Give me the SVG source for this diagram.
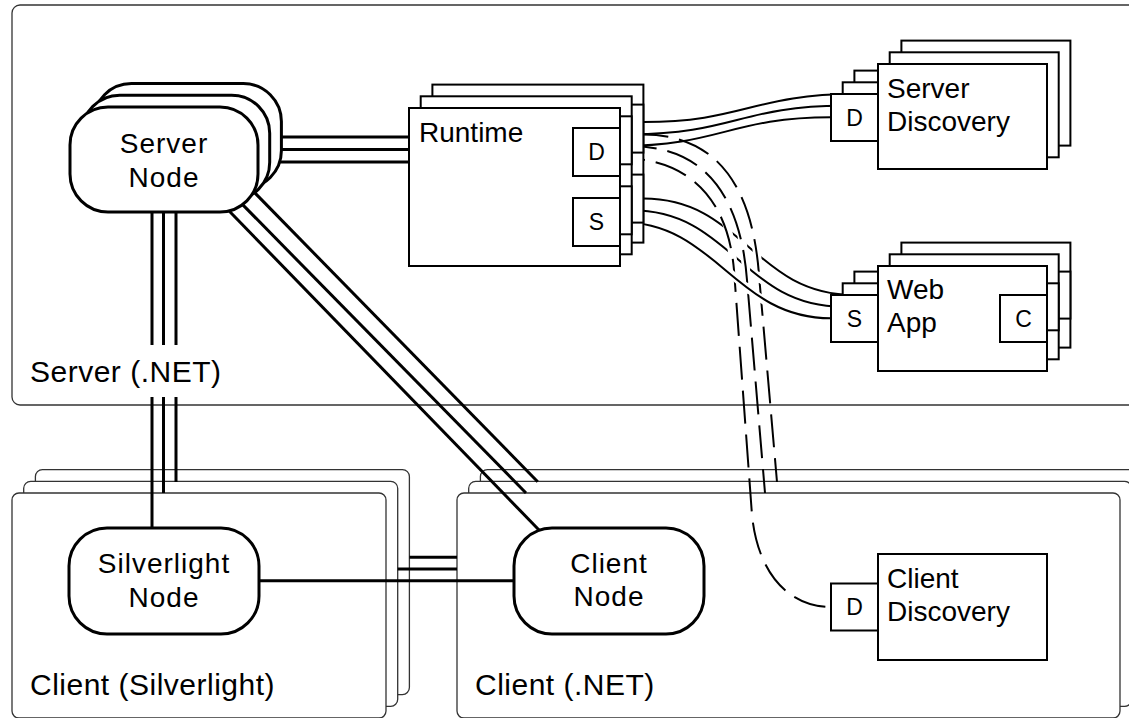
<svg xmlns="http://www.w3.org/2000/svg" xmlns:xlink="http://www.w3.org/1999/xlink" width="1129" height="718" viewBox="0 0 1129 718">
<style>
.ct{fill:#fff;stroke:#333;stroke-width:1.3}
.node{fill:#fff;stroke:#000;stroke-width:3}
.box{fill:#fff;stroke:#000;stroke-width:2}
.thick{stroke:#000;stroke-width:3;fill:none}
.thin{stroke:#000;stroke-width:2;fill:none}
.halo{stroke:#fff;stroke-width:8;fill:none}
.dash{stroke:#000;stroke-width:2;fill:none;stroke-dasharray:33 11}
text{font-family:"Liberation Sans",Arial,Helvetica,sans-serif;fill:#000}
.lbl{font-size:28px}
.nl{font-size:28px;letter-spacing:1px;text-anchor:middle}
.cl{font-size:30px;letter-spacing:0.5px}
.pt{font-size:23px;text-anchor:middle}
</style>
<defs>
<rect id="slLayer" class="ct" x="12" y="493" width="374" height="225" rx="7"/>
<rect id="cnLayer" class="ct" x="457" y="493" width="663" height="225" rx="7"/>
<rect id="snLayer" class="node" x="70" y="107" width="188" height="105" rx="38"/>
<g id="rtLayer"><rect class="box" x="409" y="108" width="211" height="158"/><rect class="box" x="573" y="128" width="47" height="48"/><rect class="box" x="573" y="198" width="47" height="48"/></g>
<g id="sdLayer"><rect class="box" x="878" y="64" width="169" height="105"/><rect class="box" x="831" y="94" width="47" height="47"/></g>
<g id="waLayer"><rect class="box" x="878" y="266" width="169" height="105"/><rect class="box" x="831" y="295" width="47" height="47"/><rect class="box" x="1000" y="295" width="47" height="47"/></g>
</defs>

<g id="server-container">
<rect class="ct" x="12" y="5" width="1130" height="400" rx="8"/>
</g>
<g id="client-silverlight-container">
<use xlink:href="#slLayer" href="#slLayer" x="23.4" y="-23.4"/>
<use xlink:href="#slLayer" href="#slLayer" x="11.7" y="-11.7"/>
<use xlink:href="#slLayer" href="#slLayer"/>
<text class="cl" x="30" y="695">Client (Silverlight)</text>
</g>
<g id="client-net-container">
<use xlink:href="#cnLayer" href="#cnLayer" x="23.4" y="-23.4"/>
<use xlink:href="#cnLayer" href="#cnLayer" x="11.7" y="-11.7"/>
<use xlink:href="#cnLayer" href="#cnLayer"/>
<text class="cl" x="475" y="695">Client (.NET)</text>
</g>

<g id="connectors">
<!-- server node to runtime -->
<line class="thick" x1="200" y1="137" x2="409" y2="137"/>
<line class="thick" x1="200" y1="149.5" x2="409" y2="149.5"/>
<line class="thick" x1="200" y1="162" x2="409" y2="162"/>
<!-- server node to silverlight -->
<line class="thick" x1="152" y1="200" x2="152" y2="528"/>
<line class="thick" x1="163.5" y1="200" x2="163.5" y2="493"/>
<line class="thick" x1="176" y1="200" x2="176" y2="482"/>
<!-- server node to client node -->
<line class="thick" x1="200" y1="181" x2="539" y2="530"/>
<line class="thick" x1="213" y1="174.5" x2="526" y2="493"/>
<line class="thick" x1="225" y1="162.4" x2="537.7" y2="481.7"/>
<!-- silverlight to client -->
<line class="thick" x1="259" y1="580.7" x2="514" y2="580.7"/>
<line class="thick" x1="397.7" y1="569" x2="457" y2="569"/>
<line class="thick" x1="409.4" y1="557.3" x2="457" y2="557.3"/>
<!-- runtime D to server discovery -->
<path class="thin" d="M643.4,122 C743,122 754,94 854.4,94"/>
<path class="thin" d="M631.7,134.3 C731,134.3 743,105.7 842.7,105.7"/>
<path class="thin" d="M620,146 C720,146 731,117.3 831,117.3"/>
<!-- runtime S to web app (back) -->
<path class="halo" d="M660,199 C743,198.6 754,295 840,295"/>
<path class="thin" d="M643.4,198.6 C743,198.6 754,295 854.4,295"/>
<!-- dashed back -->
<path class="halo" d="M700,150 C730,162 752,180 759,275 L763,325"/>
<path class="dash" stroke-dashoffset="8" d="M643.4,134.6 C712,134.6 752,180 759,275 L777,482"/>
<!-- S middle -->
<path class="halo" d="M650,210.5 C731,210.3 743,306.7 835,306.7"/>
<path class="thin" d="M631.7,210.3 C731,210.3 743,306.7 842.7,306.7"/>
<!-- dashed middle, front -->
<path class="halo" d="M690,160 C720,172 740,190 747,280 L751,330"/>
<path class="dash" stroke-dashoffset="8" d="M631.7,146.3 C700,146.3 740,190 747,280 L765,493"/>
<path class="halo" d="M680,168 C710,182 728,200 734,270 L738,320"/>
<path class="dash" stroke-dashoffset="8" d="M620,158 C690,158 728,200 734,270 L752,515 C758,575 790,607 831,607"/>
<!-- S front -->
<path class="halo" d="M640,222.5 C717,222 734,318.3 825,318.3"/>
<path class="thin" d="M620,222 C717,222 734,318.3 831,318.3"/>
</g>

<g id="server-label">
<rect x="24" y="345" width="192" height="52" fill="#fff"/>
<text class="cl" x="30" y="382">Server (.NET)</text>
</g>

<g id="server-node">
<use xlink:href="#snLayer" href="#snLayer" x="23.4" y="-23.4"/>
<use xlink:href="#snLayer" href="#snLayer" x="11.7" y="-11.7"/>
<use xlink:href="#snLayer" href="#snLayer"/>
<text class="nl" x="164" y="153">Server</text>
<text class="nl" x="164" y="187">Node</text>
</g>

<g id="runtime">
<use xlink:href="#rtLayer" href="#rtLayer" x="23.4" y="-23.4"/>
<use xlink:href="#rtLayer" href="#rtLayer" x="11.7" y="-11.7"/>
<use xlink:href="#rtLayer" href="#rtLayer"/>
<text class="lbl" x="419" y="142">Runtime</text>
<text class="pt" x="596.5" y="160">D</text>
<text class="pt" x="596.5" y="230">S</text>
</g>

<g id="server-discovery">
<use xlink:href="#sdLayer" href="#sdLayer" x="23.4" y="-23.4"/>
<use xlink:href="#sdLayer" href="#sdLayer" x="11.7" y="-11.7"/>
<use xlink:href="#sdLayer" href="#sdLayer"/>
<text class="lbl" x="887" y="98">Server</text>
<text class="lbl" x="887" y="131">Discovery</text>
<text class="pt" x="854.5" y="125.5">D</text>
</g>

<g id="web-app">
<use xlink:href="#waLayer" href="#waLayer" x="23.4" y="-23.4"/>
<use xlink:href="#waLayer" href="#waLayer" x="11.7" y="-11.7"/>
<use xlink:href="#waLayer" href="#waLayer"/>
<text class="lbl" x="887" y="299">Web</text>
<text class="lbl" x="887" y="332">App</text>
<text class="pt" x="854.5" y="326.5">S</text>
<text class="pt" x="1023.5" y="326.5">C</text>
</g>

<g id="silverlight-node">
<rect class="node" x="69" y="528" width="190" height="106" rx="38"/>
<text class="nl" x="164" y="573">Silverlight</text>
<text class="nl" x="164" y="607">Node</text>
</g>

<g id="client-node">
<rect class="node" x="514" y="528" width="190" height="106" rx="38"/>
<text class="nl" x="609" y="573">Client</text>
<text class="nl" x="609" y="606">Node</text>
</g>

<g id="client-discovery">
<rect class="box" x="878" y="554" width="169" height="106"/>
<rect class="box" x="831" y="583.5" width="47" height="47"/>
<text class="lbl" x="887" y="588">Client</text>
<text class="lbl" x="887" y="621">Discovery</text>
<text class="pt" x="854.5" y="615">D</text>
</g>
</svg>
